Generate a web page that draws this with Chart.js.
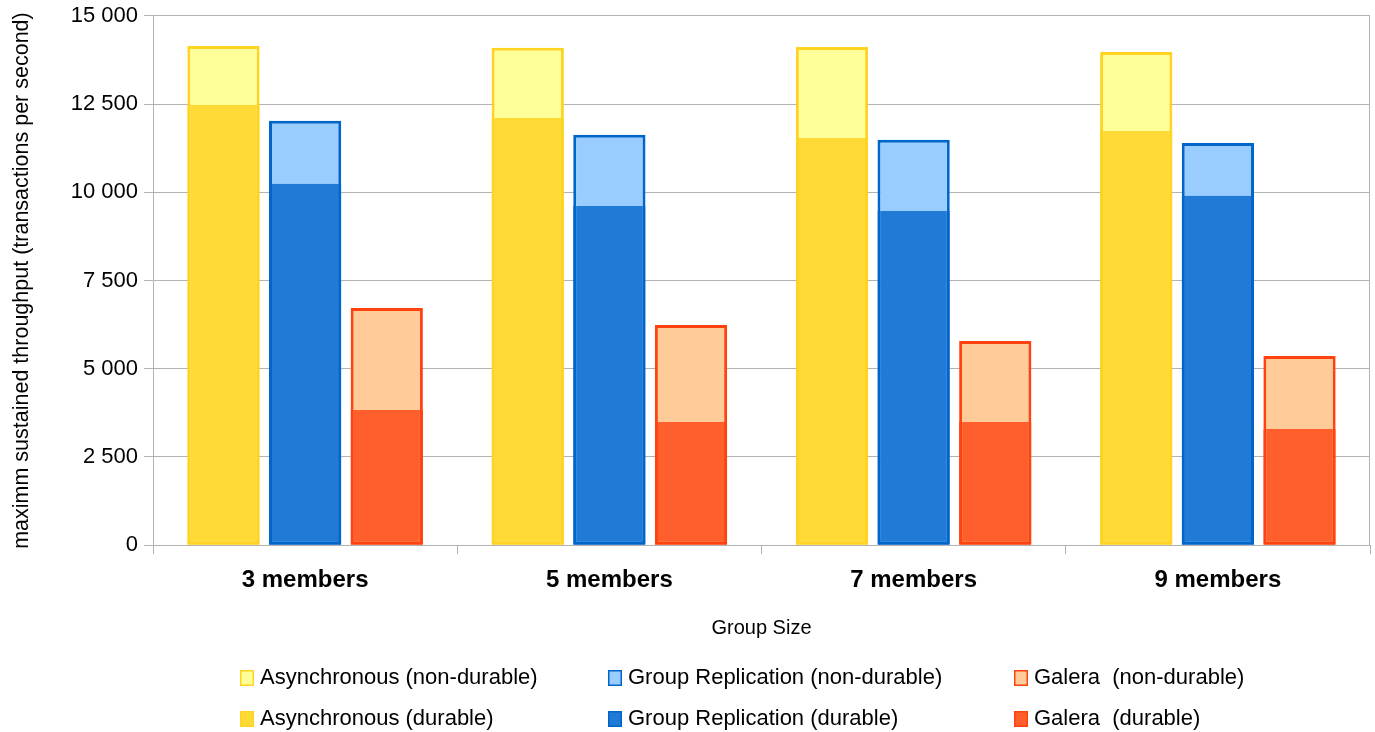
<!DOCTYPE html>
<html>
<head>
<meta charset="utf-8">
<script src="https://cdn.jsdelivr.net/npm/chart.js@4"></script>
<style>
  html, body { margin: 0; padding: 0; background: #fff; }
  #wrap { width: 1375px; height: 732px; }
</style>
</head>
<body>
<div id="wrap"><canvas id="chart" width="1375" height="732"></canvas></div>
<script>
// --- DATA ---
const groupSizes = ['3 members', '5 members', '7 members', '9 members'];
const asyncNonDurable = [14150, 14100, 14120, 13980];
const asyncDurable = [12480, 12110, 11540, 11740];
const grNonDurable = [12030, 11630, 11490, 11400];
const grDurable = [10240, 9610, 9470, 9900];
const galeraNonDurable = [6720, 6240, 5790, 5360];
const galeraDurable = [3830, 3490, 3490, 3290];
const yTicks = [0, 2500, 5000, 7500, 10000, 12500, 15000];

const FONT = "'Liberation Sans', Arial, sans-serif";
const GRID = '#b3b3b3';

function spaced(v) {
    return String(v).replace(/\B(?=(\d{3})+(?!\d))/g, ' ');
}

function makeSet(label, data, stack, fill, border, durable) {
    return {
        label: label,
        data: data,
        stack: stack,
        order: durable ? 0 : 1, // durable bars sit in front
        backgroundColor: fill,
        borderColor: border,
        borderWidth: durable ? { top: 0, left: 3, right: 3, bottom: 3 } : 3,
        borderSkipped: false,
        barPercentage: 0.885,
        categoryPercentage: 0.805
    };
}

const datasets = [
    makeSet('Asynchronous (non-durable)', asyncNonDurable, 'async', '#ffff99', '#ffd320', false),
    makeSet('Group Replication (non-durable)', grNonDurable, 'gr', '#99ccff', '#0066cc', false),
    makeSet('Galera  (non-durable)', galeraNonDurable, 'galera', '#ffcc99', '#ff420e', false),
    makeSet('Asynchronous (durable)', asyncDurable, 'async', '#ffd935', '#ffd320', true),
    makeSet('Group Replication (durable)', grDurable, 'gr', '#207ad6', '#0066cc', true),
    makeSet('Galera  (durable)', galeraDurable, 'galera', '#ff5e2d', '#ff420e', true)
];

// legend drawn in a fixed 3-column grid, like the original
const legendGrid = {
    id: 'legendGrid',
    afterDraw(chart) {
        const ctx = chart.ctx;
        const cols = [240, 608, 1014];
        const rows = [678, 719];
        ctx.save();
        ctx.font = '22px ' + FONT;
        ctx.textBaseline = 'middle';
        chart.data.datasets.forEach((ds, i) => {
            const x = cols[i % 3];
            const y = rows[Math.floor(i / 3)];
            ctx.fillStyle = ds.borderColor;
            ctx.fillRect(x, y - 8, 14, 16);
            ctx.fillStyle = ds.backgroundColor;
            ctx.fillRect(x + 1.5, y - 6.5, 11, 13);
            ctx.fillStyle = '#000';
            ctx.fillText(ds.label, x + 20, y);
        });
        // right frame line of the plot
        const a = chart.chartArea;
        ctx.strokeStyle = GRID;
        ctx.lineWidth = 1;
        ctx.beginPath();
        ctx.moveTo(Math.round(a.right) - 0.5, a.top);
        ctx.lineTo(Math.round(a.right) - 0.5, a.bottom);
        ctx.stroke();
        ctx.restore();
    }
};

new Chart(document.getElementById('chart'), {
    type: 'bar',
    data: { labels: groupSizes, datasets: datasets },
    plugins: [legendGrid],
    options: {
        responsive: false,
        animation: false,
        layout: { padding: { left: 0, right: 5, top: 0, bottom: 92 } },
        plugins: {
            legend: { display: false },
            tooltip: { enabled: false }
        },
        scales: {
            x: {
                grid: {
                    offset: true,
                    drawOnChartArea: false,
                    drawTicks: true,
                    tickLength: 9,
                    color: GRID
                },
                border: { display: true, color: GRID },
                ticks: {
                    color: '#000',
                    padding: 12,
                    font: { family: FONT, size: 24, weight: 'bold' }
                },
                title: {
                    display: true,
                    text: 'Group Size',
                    color: '#000',
                    padding: { top: 9, bottom: 0 },
                    font: { family: FONT, size: 20 }
                }
            },
            y: {
                stacked: false,
                min: 0,
                max: 15000,
                afterBuildTicks(scale) {
                    scale.ticks = yTicks.map(v => ({ value: v }));
                },
                afterFit(scale) {
                    scale.width = 153;
                },
                grid: { color: GRID, tickLength: 9 },
                border: { display: true, color: GRID },
                ticks: {
                    color: '#000',
                    padding: 6,
                    font: { family: FONT, size: 22, lineHeight: 0.9 },
                    callback: v => spaced(v)
                },
                title: {
                    display: true,
                    text: 'maximm sustained throughput (transactions per second)',
                    color: '#000',
                    padding: { top: 9, bottom: 0 },
                    font: { family: FONT, size: 21.5 }
                }
            }
        }
    }
});
</script>
</body>
</html>
